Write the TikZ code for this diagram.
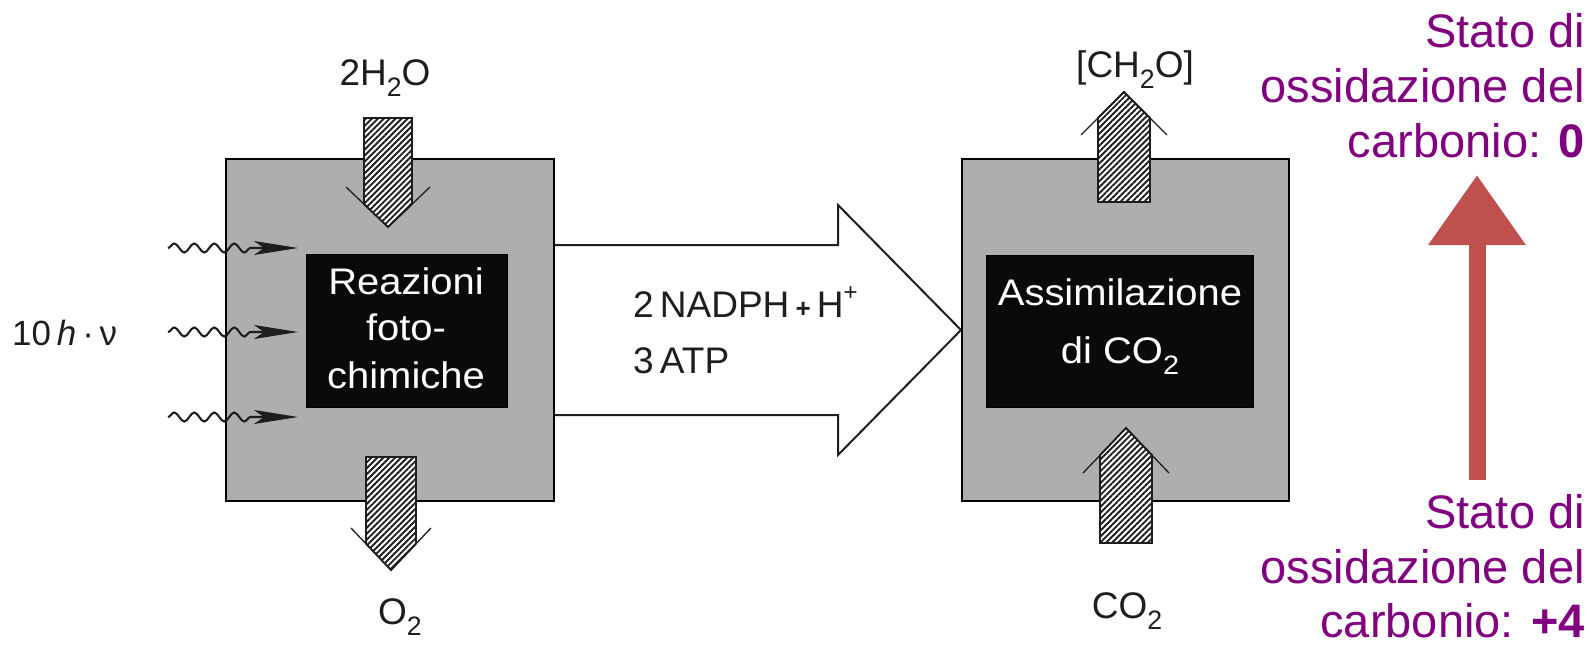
\documentclass[tikz,border=0pt]{standalone}
\usepackage{fontspec}
\setmainfont{Liberation Sans}
\newfontfamily\boxfont[FakeStretch=1.08]{Liberation Sans}
\usepackage{graphicx}
\usetikzlibrary{arrows.meta,patterns.meta,decorations.pathmorphing,calc}
\definecolor{boxgray}{RGB}{174,174,174}
\definecolor{labelpurple}{RGB}{128,0,128}
\definecolor{arrowred}{RGB}{192,80,77}
\definecolor{ink}{RGB}{30,30,30}
\newcommand\dn[1]{\raisebox{-0.3em}{\scalebox{0.72}{#1}}}
\newcommand\upp[1]{\raisebox{0.45em}{\scalebox{0.65}{#1}}}
\begin{document}
\begin{tikzpicture}[x=1pt,y=-1pt,
  graybox/.style={draw=black, line width=2pt, fill=boxgray, inner sep=0pt},
  blackbox/.style={fill=black!96, draw=black, inner sep=0pt},
  boxtext/.style={text=white, font=\boxfont\fontsize{37}{47}\selectfont, inner sep=0pt},
  chem/.style={text=ink, font=\fontsize{37}{44}\selectfont, inner sep=0pt},
  purpletext/.style={text=labelpurple, font=\fontsize{47}{55}\selectfont, inner sep=0pt, anchor=base east},
  hatch/.style={draw=ink, line width=1.8pt, line join=miter, preaction={fill=white}, pattern={Lines[angle=45,distance=4.2pt,line width=1.9pt]}, pattern color=ink},
  wing/.style={draw=ink, line width=1.3pt},
  wave/.style={draw=ink, line width=2.1pt, decorate, decoration={snake, amplitude=4.5pt, segment length=20pt, post length=40pt}, -{Stealth[length=44pt,width=14pt,inset=10pt]}},
  bigarrow/.style={draw=ink, line width=2pt, fill=white, line join=miter},
]
\useasboundingbox (0,0) rectangle (1595,645);
\fill[white] (0,0) rectangle (1595,645);

% gray boxes
\node[graybox, minimum width=328pt, minimum height=342pt] (lbox) at (390,330) {};
\node[graybox, minimum width=327pt, minimum height=342pt] (rbox) at (1125.5,330) {};

% big hollow arrow
\coordinate (atip) at (rbox.west);
\draw[bigarrow] ($(lbox.east)+(0,-85)$) -- (838,245) -- (838,205) -- (atip)
  -- (838,455) -- (838,415) -- ($(lbox.east)+(0,85)$);

% black boxes
\node[blackbox, minimum width=201pt, minimum height=153pt] (lblack) at (406.5,330.5) {};
\node[blackbox, minimum width=267pt, minimum height=152pt] (rblack) at (1119.5,331) {};

% hatched arrows (left box)
\draw[hatch] (364,118) -- (412,118) -- (412,204) -- (388,227) -- (364,204) -- cycle;
\draw[wing] (346,187) -- (388,227) -- (430,187);
\draw[hatch] (366,457) -- (416,457) -- (416,543.7) -- (391,570) -- (366,543.7) -- cycle;
\draw[wing] (351,528) -- (391,570) -- (431,528);
% hatched arrows (right box)
\draw[hatch] (1098,202) -- (1150,202) -- (1150,118) -- (1124,92) -- (1098,118) -- cycle;
\draw[wing] (1081,135) -- (1124,92) -- (1167,135);
\draw[hatch] (1100,543) -- (1152,543) -- (1152,455.2) -- (1126,428) -- (1100,455.2) -- cycle;
\draw[wing] (1083,473) -- (1126,428) -- (1169,473);

% wavy light arrows
\coordinate (w1a) at (168,248); \coordinate (w1b) at (298,248);
\coordinate (w2a) at (168,332); \coordinate (w2b) at (298,332);
\coordinate (w3a) at (168,417); \coordinate (w3b) at (298,417);
\draw[wave] (w1a) -- (w1b);
\draw[wave] (w2a) -- (w2b);
\draw[wave] (w3a) -- (w3b);

% texts in black boxes
\node[boxtext, anchor=base] (r1) at (406,294) {Reazioni};
\node[boxtext, anchor=base] (r2) at (406,340) {foto-};
\node[boxtext, anchor=base] (r3) at (406,388) {chimiche};
\node[boxtext, anchor=base] (a1) at (1120,305) {Assimilazione};
\node[boxtext, anchor=base] (a2) at (1120,363) {di CO\dn{2}};

% chemical labels
\node[chem, anchor=base] (h2o) at (385,85) {2H\dn{2}O};
\node[chem, anchor=base] (o2) at (400,624) {O\dn{2}};
\node[chem, anchor=base] (ch2o) at (1135,77) {[CH\dn{2}O]};
\node[chem, anchor=base] (co2) at (1127,618) {CO\dn{2}};
\node[chem, anchor=base west, font=\fontsize{35}{40}\selectfont] (hv) at (12,345) {10\,\textit{h}\,·\,ν};
\node[chem, anchor=base west] (nadph) at (633,317) {2\,NADPH\,{\fontsize{26}{26}\selectfont\textbf{+}}\,H\upp{+}};
\node[chem, anchor=base west] (atp) at (633,373) {3\,ATP};

% oxidation state labels
\node[purpletext] (s1) at (1585,47) {Stato di};
\node[purpletext] (s2) at (1585,102) {ossidazione del};
\node[purpletext] (s3) at (1585,157) {carbonio: \textbf{0}};
\node[purpletext] (t1) at (1585,528) {Stato di};
\node[purpletext] (t2) at (1585,583) {ossidazione del};
\node[purpletext] (t3) at (1585,637) {carbonio: \textbf{+4}};

% red arrow
\coordinate (redfoot) at (1477,480);
\coordinate (redtip) at (1477,175);
\draw[arrowred, line width=17pt, -{Triangle[length=70pt,width=93pt]}] (redfoot) -- (redtip);
\end{tikzpicture}
\end{document}
